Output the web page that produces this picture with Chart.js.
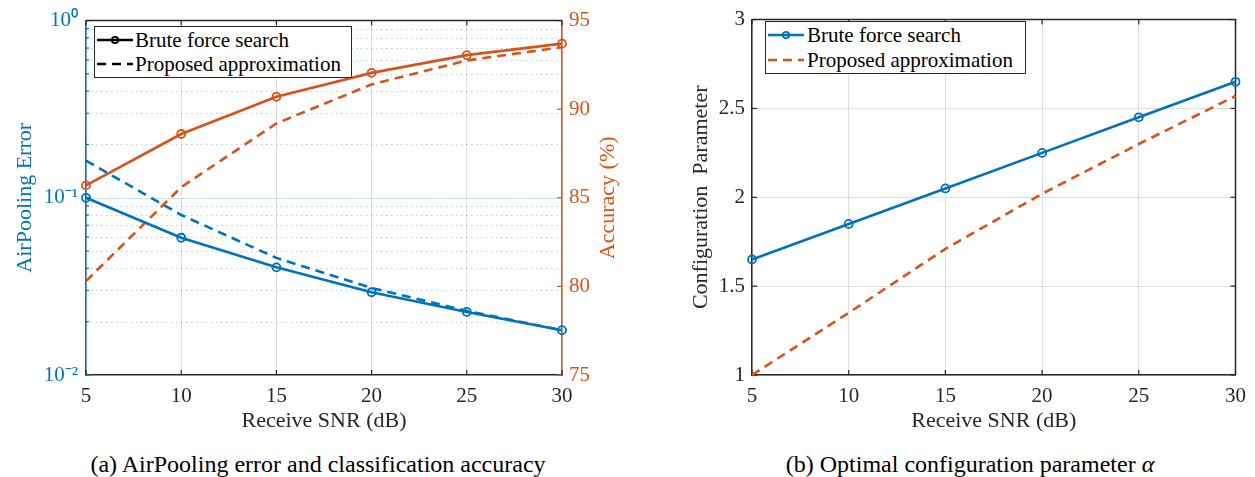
<!DOCTYPE html>
<html>
<head>
<meta charset="utf-8">
<script src="https://cdn.jsdelivr.net/npm/chart.js@4.4.1/dist/chart.umd.min.js"></script>
<style>
body { margin: 0; background: #fff; width: 1255px; height: 477px; position: relative; overflow: hidden; font-family: "Liberation Serif", serif; }
.box { position: absolute; }
.legend { position: absolute; background: #fff; border: 1.5px solid #262626; box-sizing: border-box; font-size: 21px; color: #000; }
.row { position: absolute; left: 0; height: 24px; white-space: nowrap; }
.row svg { position: absolute; left: 2px; top: 7px; }
.row span { position: absolute; top: 0; line-height: 24px; }
.caption { position: absolute; top: 451px; font-size: 24px; white-space: nowrap; color: #000; transform: translateX(-50%); }
</style>
</head>
<body>
<div class="box" style="left:0;top:0;width:625px;height:440px"><canvas id="chartA" width="625" height="440"></canvas></div>
<div class="box" style="left:640px;top:0;width:615px;height:440px"><canvas id="chartB" width="615" height="440"></canvas></div>

<div class="legend" style="left:94px;top:26px;width:258px;height:52px">
  <div class="row" style="top:1px">
    <svg width="36" height="10"><line x1="0" y1="5" x2="36" y2="5" stroke="#000" stroke-width="2.6"/><circle cx="18" cy="5" r="3.2" fill="none" stroke="#000" stroke-width="1.8"/></svg>
    <span style="left:40px">Brute force search</span>
  </div>
  <div class="row" style="top:25px">
    <svg width="36" height="10"><line x1="0" y1="5" x2="36" y2="5" stroke="#000" stroke-width="2.6" stroke-dasharray="9 6"/></svg>
    <span style="left:40px">Proposed approximation</span>
  </div>
</div>

<div class="legend" style="left:765px;top:21px;width:261px;height:53px">
  <div class="row" style="top:1px">
    <svg width="36" height="10"><line x1="0" y1="5" x2="36" y2="5" stroke="#0072BD" stroke-width="2.6"/><circle cx="18" cy="5" r="3.2" fill="none" stroke="#0072BD" stroke-width="1.8"/></svg>
    <span style="left:41px">Brute force search</span>
  </div>
  <div class="row" style="top:26px">
    <svg width="36" height="10"><line x1="0" y1="5" x2="36" y2="5" stroke="#D95319" stroke-width="2.6" stroke-dasharray="9 6"/></svg>
    <span style="left:41px">Proposed approximation</span>
  </div>
</div>

<div class="caption" style="left:318px">(a) AirPooling error and classification accuracy</div>
<div class="caption" style="left:970px">(b) Optimal configuration parameter <i>α</i></div>

<script>
const snr = [5, 10, 15, 20, 25, 30];
const errBrute = [0.100, 0.0595, 0.0405, 0.0293, 0.0227, 0.0179];
const errApprox = [0.162, 0.0800, 0.0458, 0.0310, 0.0230, 0.0179];
const accBrute = [85.7, 88.6, 90.7, 92.05, 93.05, 93.7];
const accApprox = [80.3, 85.6, 89.2, 91.4, 92.75, 93.5];
const alphaBrute = [1.65, 1.85, 2.05, 2.25, 2.45, 2.65];
const alphaApprox = [1.0, 1.35, 1.71, 2.02, 2.30, 2.57];
const errTicks = [0.01, 0.1, 1];
const accTicks = [75, 80, 85, 90, 95];
const alphaTicks = [1, 1.5, 2, 2.5, 3];

const BLUE = '#0072BD';
const ORANGE = '#D95319';
const DARK = '#262626';
const FONT = 'Liberation Serif';

const sup = { '-': '⁻', '0': '⁰', '1': '¹', '2': '²', '3': '³' };
function powLabel(v) {
    const e = String(Math.round(Math.log10(v)));
    return '10' + e.split('').map(c => sup[c]).join('');
}
function pts(ys) {
    return snr.map((x, i) => ({ x: x, y: ys[i] }));
}
function line(label, ys, color, axis, dashed) {
    return {
        label: label,
        data: pts(ys),
        yAxisID: axis,
        borderColor: color,
        borderWidth: 2.6,
        borderDash: dashed ? [9, 6] : [],
        pointRadius: dashed ? 0 : 4,
        pointBorderWidth: 1.8,
        pointBorderColor: color,
        pointBackgroundColor: 'rgba(0,0,0,0)',
        fill: false,
        tension: 0,
        clip: false,
    };
}
function xScale() {
    return {
        type: 'linear', min: 5, max: 30,
        afterBuildTicks: s => { s.ticks = snr.map(v => ({ value: v })); },
        ticks: { color: DARK, font: { family: FONT, size: 21 }, padding: 9, maxRotation: 0 },
        grid: { color: '#dedede', lineWidth: 1, drawTicks: false },
        border: { color: DARK, width: 1.5 },
        title: { display: true, text: 'Receive SNR (dB)', color: DARK, font: { family: FONT, size: 22 }, padding: { top: 0, bottom: 6 } },
        afterFit: s => { s.height = 65; },
    };
}

// inward tick marks
function tickMarks(ctx, area, scale, side, color, len) {
    ctx.strokeStyle = color;
    ctx.lineWidth = 1.2;
    scale.ticks.forEach(t => {
        const p = scale.getPixelForValue(t.value);
        ctx.beginPath();
        if (side === 'bottom') { ctx.moveTo(p, area.bottom); ctx.lineTo(p, area.bottom - len); }
        if (side === 'top') { ctx.moveTo(p, area.top); ctx.lineTo(p, area.top + len); }
        if (side === 'left') { ctx.moveTo(area.left, p); ctx.lineTo(area.left + len, p); }
        if (side === 'right') { ctx.moveTo(area.right, p); ctx.lineTo(area.right - len, p); }
        ctx.stroke();
    });
}

const extrasA = {
    id: 'extrasA',
    beforeDatasetsDraw(chart) {
        const ctx = chart.ctx, a = chart.chartArea, y = chart.scales.y;
        ctx.save();
        // minor log grid, dotted
        ctx.setLineDash([1.5, 3.5]);
        ctx.strokeStyle = 'rgba(0,114,189,0.3)';
        ctx.lineWidth = 1;
        [0.01, 0.1].forEach(d => {
            for (let k = 2; k <= 9; k++) {
                const p = Math.round(y.getPixelForValue(d * k)) + 0.5;
                ctx.beginPath(); ctx.moveTo(a.left, p); ctx.lineTo(a.right, p); ctx.stroke();
            }
        });
        ctx.setLineDash([]);
        ctx.strokeStyle = 'rgba(0,114,189,0.2)';
        const p = Math.round(y.getPixelForValue(0.1)) + 0.5;
        ctx.beginPath(); ctx.moveTo(a.left, p); ctx.lineTo(a.right, p); ctx.stroke();
        // minor ticks on left axis
        ctx.strokeStyle = BLUE;
        ctx.lineWidth = 1.2;
        [0.01, 0.1].forEach(d => {
            for (let k = 2; k <= 9; k++) {
                const q = y.getPixelForValue(d * k);
                ctx.beginPath(); ctx.moveTo(a.left, q); ctx.lineTo(a.left + 3, q); ctx.stroke();
            }
        });
        tickMarks(ctx, a, y, 'left', BLUE, 5);
        tickMarks(ctx, a, chart.scales.y1, 'right', ORANGE, 5);
        tickMarks(ctx, a, chart.scales.x, 'bottom', DARK, 5);
        tickMarks(ctx, a, chart.scales.x, 'top', DARK, 5);
        // top border
        ctx.strokeStyle = DARK;
        ctx.lineWidth = 1.5;
        ctx.beginPath(); ctx.moveTo(a.left, a.top); ctx.lineTo(a.right, a.top); ctx.stroke();
        ctx.restore();
    },
    afterDraw(chart) {
        const ctx = chart.ctx, a = chart.chartArea;
        ctx.save();
        ctx.translate(a.right + 46, (a.top + a.bottom) / 2);
        ctx.rotate(-Math.PI / 2);
        ctx.fillStyle = ORANGE;
        ctx.font = '22px "' + FONT + '"';
        ctx.textAlign = 'center';
        ctx.textBaseline = 'middle';
        ctx.fillText('Accuracy (%)', 0, 0);
        ctx.restore();
    },
};

new Chart(document.getElementById('chartA'), {
    type: 'line',
    data: {
        datasets: [
            line('Brute force search', errBrute, BLUE, 'y', false),
            line('Proposed approximation', errApprox, BLUE, 'y', true),
            line('Brute force search', accBrute, ORANGE, 'y1', false),
            line('Proposed approximation', accApprox, ORANGE, 'y1', true),
        ],
    },
    options: {
        responsive: false,
        animation: false,
        layout: { padding: { top: 17, left: 0, right: 0, bottom: 0 } },
        plugins: { legend: { display: false }, tooltip: { enabled: false } },
        scales: {
            x: xScale(),
            y: {
                type: 'logarithmic', position: 'left', min: 0.01, max: 1,
                afterBuildTicks: s => { s.ticks = errTicks.map(v => ({ value: v })); },
                ticks: { color: BLUE, font: { family: FONT, size: 21 }, padding: 8, callback: v => powLabel(v) },
                grid: { color: 'rgba(0,0,0,0)', drawTicks: false },
                border: { color: BLUE, width: 1.5 },
                title: { display: true, text: 'AirPooling Error', color: BLUE, font: { family: FONT, size: 22 }, padding: { top: 12, bottom: 0 } },
                afterFit: s => { s.width = 86; },
            },
            y1: {
                type: 'linear', position: 'right', min: 75, max: 95,
                afterBuildTicks: s => { s.ticks = accTicks.map(v => ({ value: v })); },
                ticks: { color: ORANGE, font: { family: FONT, size: 21 }, padding: 7 },
                grid: { color: 'rgba(0,0,0,0)', drawTicks: false },
                border: { color: ORANGE, width: 1.5 },
                afterFit: s => { s.width = 63; },
            },
        },
    },
    plugins: [extrasA],
});

const extrasB = {
    id: 'extrasB',
    beforeDatasetsDraw(chart) {
        const ctx = chart.ctx, a = chart.chartArea;
        ctx.save();
        tickMarks(ctx, a, chart.scales.y, 'left', DARK, 5);
        tickMarks(ctx, a, chart.scales.y, 'right', DARK, 5);
        tickMarks(ctx, a, chart.scales.x, 'bottom', DARK, 5);
        tickMarks(ctx, a, chart.scales.x, 'top', DARK, 5);
        ctx.strokeStyle = DARK;
        ctx.lineWidth = 1.5;
        ctx.beginPath();
        ctx.moveTo(a.left, a.top); ctx.lineTo(a.right, a.top); ctx.lineTo(a.right, a.bottom);
        ctx.stroke();
        ctx.restore();
    },
};

new Chart(document.getElementById('chartB'), {
    type: 'line',
    data: {
        datasets: [
            line('Brute force search', alphaBrute, BLUE, 'y', false),
            line('Proposed approximation', alphaApprox, ORANGE, 'y', true),
        ],
    },
    options: {
        responsive: false,
        animation: false,
        layout: { padding: { top: 12, left: 0, right: 17, bottom: 0 } },
        plugins: { legend: { display: false }, tooltip: { enabled: false } },
        scales: {
            x: xScale(),
            y: {
                type: 'linear', position: 'left', min: 1, max: 3,
                afterBuildTicks: s => { s.ticks = alphaTicks.map(v => ({ value: v })); },
                ticks: { color: DARK, font: { family: FONT, size: 21 }, padding: 7, callback: v => String(v) },
                grid: { color: '#dedede', lineWidth: 1, drawTicks: false },
                border: { color: DARK, width: 1.5 },
                title: { display: true, text: 'Configuration  Parameter', color: DARK, font: { family: FONT, size: 22 }, padding: { top: 48, bottom: 0 } },
                afterFit: s => { s.width = 112; },
            },
        },
    },
    plugins: [extrasB],
});
</script>
</body>
</html>
